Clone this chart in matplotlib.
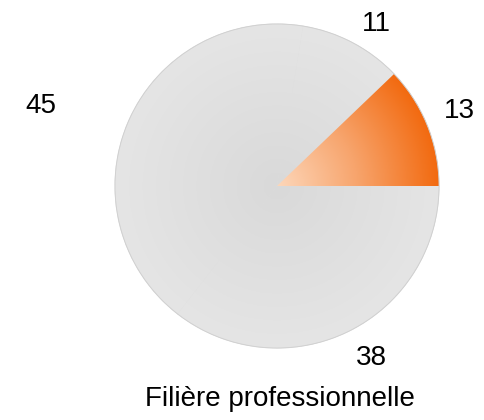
import numpy as np
import matplotlib.pyplot as plt
from matplotlib.colors import LinearSegmentedColormap

values = [13, 11, 45, 38]
labels = ["13", "11", "45", "38"]
title = "Filière professionnelle"
highlight = [True, False, False, False]

# label placement: distance from centre (in radii) and angle nudge (deg)
label_dist = [1.222, 1.188, 1.544, 1.193]
label_shift = [1.3, -3.2, 4.2, 3.0]

plt.rcParams['font.family'] = ['Liberation Sans', 'DejaVu Sans']

fig = plt.figure(figsize=(4.84, 4.2), dpi=100)
ax = fig.add_axes([0, 0, 1, 1])

wedges, _ = ax.pie(values, startangle=0, counterclock=True, radius=1,
                   colors=['#dfdfdf'] * len(values),
                   wedgeprops=dict(linewidth=0.8, edgecolor='#dfdfdf'))

orange = LinearSegmentedColormap.from_list('o', ['#fdd7ba', '#f7a46c', '#f26a10'])
grey = LinearSegmentedColormap.from_list('g', ['#d9d9d9', '#e5e5e5'])

g = np.linspace(-1, 1, 500)
xx, yy = np.meshgrid(g, g)
rr = np.sqrt(xx ** 2 + yy ** 2)

for w, hl in zip(wedges, highlight):
    im = ax.imshow(rr, cmap=orange if hl else grey, vmin=0, vmax=1,
                   extent=[-1, 1, -1, 1], origin='lower', zorder=1.5 if hl else 1.2)
    im.set_clip_path(w)

circle = plt.Circle((0, 0), 1, fill=False, edgecolor='#cfcfcf', linewidth=0.6, zorder=2)
ax.add_patch(circle)

ax.set_xlim(-277 / 162, (484 - 277) / 162)
ax.set_ylim(-234 / 162, 186 / 162)
ax.set_aspect('auto')
ax.axis('off')

for w, lab, d, s in zip(wedges, labels, label_dist, label_shift):
    ang = np.deg2rad((w.theta1 + w.theta2) / 2 + s)
    ax.text(d * np.cos(ang), d * np.sin(ang), lab, ha='center', va='center_baseline',
            fontsize=20, color='black')

fig.text(280 / 484, 1 - 406 / 420, title, ha='center', va='baseline', fontsize=20)

fig.savefig('out.png', dpi=100)
